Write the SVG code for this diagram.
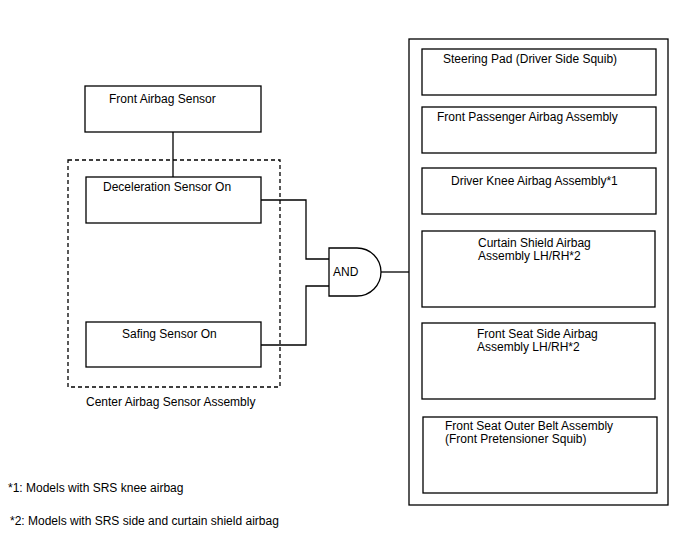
<svg xmlns="http://www.w3.org/2000/svg" width="688" height="560" viewBox="0 0 688 560">
<style>
.b{fill:#fff;stroke:#000;stroke-width:1.3}
.t{font-family:"Liberation Sans",Arial,sans-serif;font-size:12px;fill:#000}
.c{fill:none;stroke:#000;stroke-width:1.3}
</style>
<rect width="688" height="560" fill="#fff"/>
<g id="center-assembly">
<rect x="68" y="160" width="212" height="227" fill="none" stroke="#000" stroke-width="1.3" stroke-dasharray="4,3"/>
<text class="t" x="86" y="406">Center Airbag Sensor Assembly</text>
</g>
<g id="connectors">
<path class="c" d="M173,132V177"/>
<path class="c" d="M261,200H306V259H329"/>
<path class="c" d="M261,345H306V286H329"/>
<path class="c" d="M380,272H409"/>
</g>
<g id="front-airbag-sensor">
<rect class="b" x="85" y="86" width="176" height="46"/>
<text class="t" x="109" y="103">Front Airbag Sensor</text>
</g>
<g id="deceleration-sensor">
<rect class="b" x="86" y="177" width="175" height="46"/>
<text class="t" x="103" y="191">Deceleration Sensor On</text>
</g>
<g id="safing-sensor">
<rect class="b" x="86" y="322" width="175" height="45"/>
<text class="t" x="122" y="338">Safing Sensor On</text>
</g>
<g id="and-gate">
<path class="b" d="M329,248H357A24,24 0 0 1 357,296H329Z"/>
<text class="t" x="333" y="276">AND</text>
</g>
<g id="squib-group">
<rect class="b" x="409" y="39" width="259" height="466"/>
</g>
<g id="steering-pad">
<rect class="b" x="422" y="49" width="234" height="46"/>
<text class="t" x="443" y="63">Steering Pad (Driver Side Squib)</text>
</g>
<g id="front-passenger">
<rect class="b" x="422" y="107" width="234" height="46"/>
<text class="t" x="437" y="121">Front Passenger Airbag Assembly</text>
</g>
<g id="driver-knee">
<rect class="b" x="422" y="168" width="234" height="46"/>
<text class="t" x="451" y="185">Driver Knee Airbag Assembly*1</text>
</g>
<g id="curtain-shield">
<rect class="b" x="422" y="231" width="233" height="76"/>
<text class="t" x="478" y="247">Curtain Shield Airbag</text>
<text class="t" x="478" y="260">Assembly LH/RH*2</text>
</g>
<g id="front-seat-side">
<rect class="b" x="422" y="323" width="233" height="76"/>
<text class="t" x="477" y="338">Front Seat Side Airbag</text>
<text class="t" x="477" y="351">Assembly LH/RH*2</text>
</g>
<g id="outer-belt">
<rect class="b" x="423" y="417" width="234" height="76"/>
<text class="t" x="445" y="430">Front Seat Outer Belt Assembly</text>
<text class="t" x="445" y="443">(Front Pretensioner Squib)</text>
</g>
<g id="notes">
<text class="t" x="8" y="492">*1: Models with SRS knee airbag</text>
<text class="t" x="10" y="525">*2: Models with SRS side and curtain shield airbag</text>
</g>
</svg>
